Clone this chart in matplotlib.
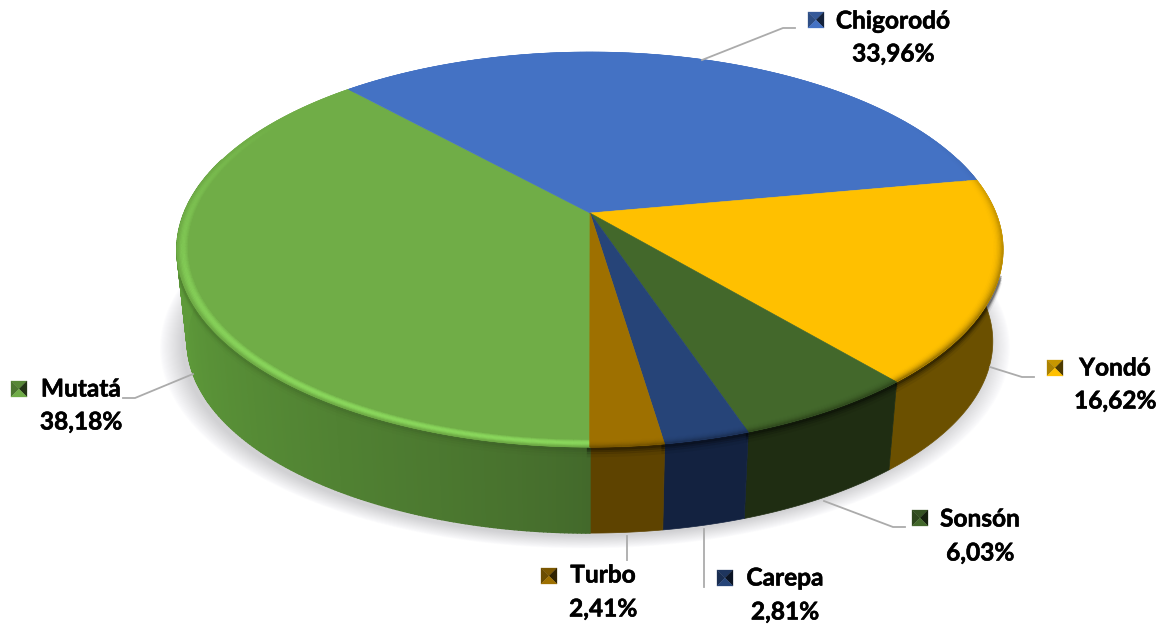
import matplotlib
matplotlib.use("Agg")
import matplotlib.patheffects as pe
import matplotlib.pyplot as plt
import numpy as np
from matplotlib.collections import PolyCollection
from matplotlib.colors import to_rgb

plt.rcParams["font.family"] = ["Lato", "DejaVu Sans"]

# clockwise from the bottom of the pie
labels = ["Mutatá", "Chigorodó", "Yondó", "Sonsón", "Carepa", "Turbo"]
pct_text = ["38,18%", "33,96%", "16,62%", "6,03%", "2,81%", "2,41%"]
values = [38.18, 33.96, 16.62, 6.03, 2.81, 2.41]
top_colors = ["#70AD47", "#4472C4", "#FFC000", "#43682B", "#264478", "#9E7000"]
rim_colors = ["#8CDA5E", "#3A62A8", "#6B5000", "#2A4019", "#182B4C", "#6A4C00"]
side_colors = ["#5E9A3A", "#33558F", "#6B5000", "#1F2D12", "#132240", "#5E4300"]

# pixel placement of label blocks: key left, key top, text centre x, name y, pct y
label_pos = [(11, 381, 81, 389, 422), (808, 12, 893, 21, 54), (1047, 360, 1115, 368, 401),
             (912, 510, 980, 519, 553), (717, 570, 785, 578, 612), (541, 568, 603, 575, 609)]
leaders = [[(193, 374), (135, 398), (123, 398)], [(702, 60), (783, 28), (795, 28)],
           [(990, 367), (1022, 377), (1034, 377)], [(824, 501), (893, 527), (905, 527)],
           [(704, 529), (704, 587)], [(627, 536), (627, 560)]]

CX, CY = 590, 213
R, S, K = 406, 190.8, 0.185
STEP = 0.5


def rim(deg, r=1.0):
    # deg is clockwise from the back of the pie, projected with perspective
    a = np.radians(deg)
    u, v = r * np.sin(a), r * np.cos(a)
    d = 1 + K * v
    return CX + R * u / d, CY - S * v / d


def lower(x, y):
    # same rim on the bottom face of the disc
    return CX + (x - CX) * 0.975, CY + 93 + (y - CY) * 0.97


def mix(c1, c2, t):
    c1, c2 = np.array(to_rgb(c1)), np.array(to_rgb(c2))
    return tuple(c1 + (c2 - c1) * t)


fig = plt.figure(figsize=(11.68, 6.27), dpi=100)
ax = fig.add_axes([0, 0, 1, 1])
ax.set_xlim(0, 1168)
ax.set_ylim(627, 0)
ax.axis("off")

edges = 180 + np.cumsum([0] + values) * 3.6
spans = list(zip(edges[:-1], edges[1:]))

# soft shadow under the disc
all_deg = np.arange(0, 360, 2.0)
bx, by = lower(*rim(all_deg))
for grow in np.linspace(1.055, 1.0, 22):
    ax.fill(CX - 5 + (bx - CX) * grow, 268 + (by - 268) * (1 + (grow - 1) * 0.85) + 3,
            color="#50505E", alpha=0.013, lw=0, zorder=1)

# side wall, one piece per slice except the shaded green one
polys, cols = [], []
for (start, stop), side, name in zip(spans, side_colors, labels):
    degs = np.append(np.arange(start, stop, STEP), stop)
    degs = degs[np.cos(np.radians(degs)) < 0.3]
    if len(degs) < 2:
        continue
    if name == "Mutatá":
        for d0, d1 in zip(degs[:-1], degs[1:]):
            x0, y0 = rim(d0)
            x1, y1 = rim(d1)
            xb1, yb1 = lower(x1, y1)
            xb0, yb0 = lower(x0, y0)
            polys.append([(x0, y0), (x1, y1), (xb1, yb1), (xb0, yb0)])
            t = np.clip((d0 - 180) / 75, 0, 1)
            cols.append(mix("#43692B", side, t ** 0.8))
    else:
        x, y = rim(degs)
        xb, yb = lower(x, y)
        ax.fill(np.r_[x, xb[::-1]], np.r_[y, yb[::-1]], color=side, lw=0.5, zorder=2)
ax.add_collection(PolyCollection(polys, facecolors=cols, edgecolors=cols, linewidths=1.0, zorder=2))

# dark lip where the top overhangs the wall
for (start, stop), name in zip(spans, labels):
    degs = np.arange(start, stop + STEP, STEP)
    degs = degs[np.cos(np.radians(degs)) < -0.3]
    if len(degs) > 1:
        x, y = rim(degs)
        scale = 0.2 if name == "Mutatá" else 1.0
        for off, a in zip([1, 3, 5, 8], [0.30, 0.20, 0.12, 0.06]):
            ax.plot(x, y + off, color="#000000", alpha=a * scale, lw=3, solid_capstyle="butt", zorder=3)

# top face
for (start, stop), top in zip(spans, top_colors):
    degs = np.append(np.arange(start, stop, STEP), stop)
    x, y = rim(degs)
    ax.fill(np.r_[CX, x, CX], np.r_[CY, y, CY], color=top, lw=0.4, zorder=4)

# bevel along the rim, strong at the front and fading out toward the back
ring = np.linspace(0.972, 1.0, 10)
bev_polys, bev_cols = [], []
for (start, stop), top, edge, name in zip(spans, top_colors, rim_colors, labels):
    degs = np.append(np.arange(start, stop, 1.0), stop)
    for d0, d1 in zip(degs[:-1], degs[1:]):
        front = np.clip(0.40 - 0.75 * np.cos(np.radians(d0)), 0, 1) ** 0.8
        for r0, r1 in zip(ring[:-1], ring[1:]):
            p = (r0 - ring[0]) / (ring[-1] - ring[0])
            if name == "Mutatá":
                t = np.sin(np.pi * min(p * 1.15, 1)) * front
            else:
                t = p ** 2.5 * front
            x0, y0 = rim(d0, r0)
            x1, y1 = rim(d1, r0)
            x2, y2 = rim(d1, r1)
            x3, y3 = rim(d0, r1)
            bev_polys.append([(x0, y0), (x1, y1), (x2, y2), (x3, y3)])
            bev_cols.append(mix(top, edge, t))
ax.add_collection(PolyCollection(bev_polys, facecolors=bev_cols, edgecolors=bev_cols, linewidths=0.3, zorder=5))

# leader lines
for pts in leaders:
    xs, ys = zip(*pts)
    ax.plot(xs, ys, color="#ABABAB", lw=1.3, zorder=6, solid_joinstyle="miter")

# labels with bevelled legend keys
thick = [pe.withStroke(linewidth=0.4, foreground="black")]
for name, pct, top, (kx, ky, tx, ny, py) in zip(labels, pct_text, top_colors, label_pos):
    s = 16
    mx, my = kx + s / 2, ky + s / 2
    faces = [([(kx, ky), (kx + s, ky), (mx, my)], 0.78),
             ([(kx, ky), (kx, ky + s), (mx, my)], 0.68),
             ([(kx + s, ky), (kx + s, ky + s), (mx, my)], 0.30),
             ([(kx, ky + s), (kx + s, ky + s), (mx, my)], 1.0)]
    for tri, f in faces:
        ax.fill(*zip(*tri), color=tuple(np.array(to_rgb(top)) * f), lw=0.2, zorder=7)
    for txt, yy in ((name, ny), (pct, py)):
        ax.text(tx, yy, txt, ha="center", va="center", fontsize=17.6, fontweight="bold",
                color="black", zorder=8, path_effects=thick)

fig.savefig("out.png", dpi=100, facecolor="white")
